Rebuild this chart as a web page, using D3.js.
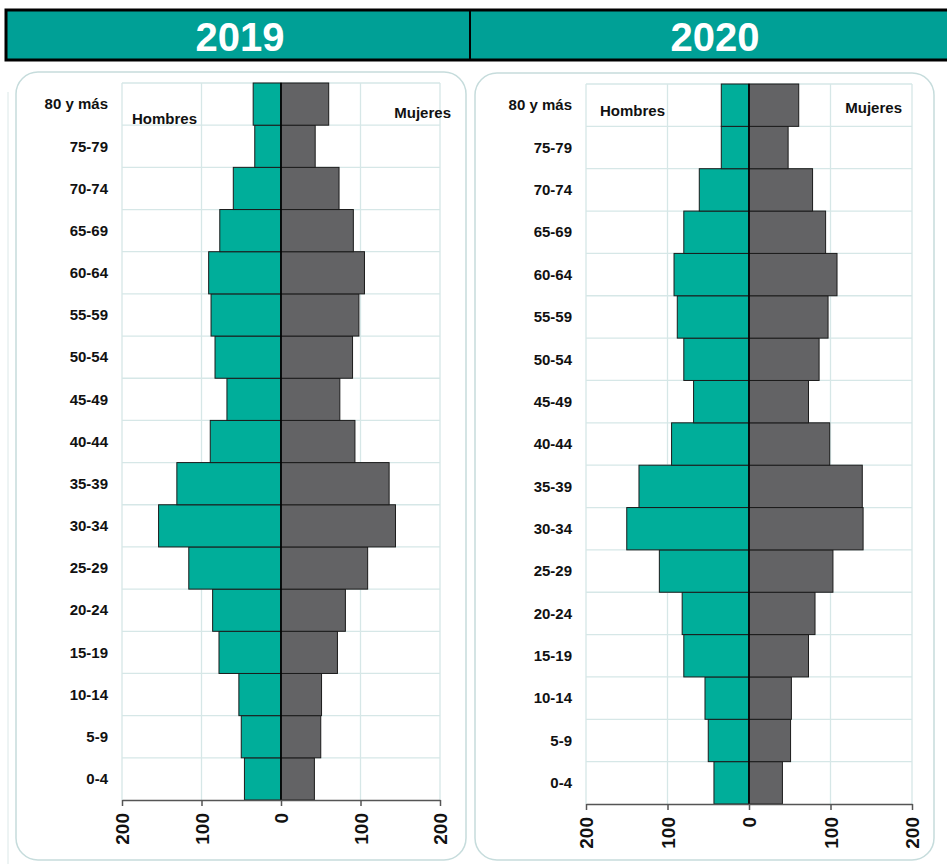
<!DOCTYPE html>
<html>
<head>
<meta charset="utf-8">
<script src="https://cdn.jsdelivr.net/npm/d3@7"></script>
<style>
  body { margin: 0; background: #fff; }
  svg { display: block; font-family: "Liberation Sans", Arial, sans-serif; }
</style>
</head>
<body>
<svg id="chart" width="947" height="864"></svg>
<script>
// age groups, youngest first
const ageGroups = ["0-4", "5-9", "10-14", "15-19", "20-24", "25-29", "30-34", "35-39",
  "40-44", "45-49", "50-54", "55-59", "60-64", "65-69", "70-74", "75-79", "80 y más"];

const men2019   = [46, 50, 53, 78, 86, 116, 154, 131, 89, 68, 83, 88, 91, 77, 60, 33, 35];
const women2019 = [42, 50, 51, 71, 81, 109, 144, 136, 93, 74, 90, 98, 105, 91, 73, 43, 60];
const men2020   = [43, 50, 54, 80, 82, 110, 150, 135, 95, 68, 80, 88, 92, 80, 61, 34, 34];
const women2020 = [41, 51, 52, 73, 81, 103, 140, 139, 99, 73, 86, 97, 108, 94, 78, 48, 61];

const years = ["2019", "2020"];
const tickValues = [-200, -100, 0, 100, 200];

const teal = "#00ae9a";
const grey = "#636365";
const gridColor = "#d6e7e7";

const svg = d3.select("#chart");

// === Header band ===
svg.append("rect")
  .attr("x", 6).attr("y", 10)
  .attr("width", 960).attr("height", 50)
  .attr("fill", "#00a096")
  .attr("stroke", "#000")
  .attr("stroke-width", 3);

svg.append("line")
  .attr("x1", 470).attr("x2", 470)
  .attr("y1", 10).attr("y2", 60)
  .attr("stroke", "#000")
  .attr("stroke-width", 2);

svg.selectAll("text.year")
  .data(years)
  .join("text")
  .attr("class", "year")
  .attr("x", (d, i) => i === 0 ? 240 : 715)
  .attr("y", 51)
  .attr("text-anchor", "middle")
  .attr("font-size", "40px")
  .attr("font-weight", "bold")
  .attr("fill", "#fff")
  .text(d => d);

// === Panel frames ===
svg.append("line")
  .attr("x1", 8).attr("x2", 8).attr("y1", 92).attr("y2", 864)
  .attr("stroke", "#dbe8e8").attr("stroke-width", 1);

const frames = [
  { x: 16, y: 72, w: 450, h: 788 },
  { x: 475, y: 73, w: 459, h: 787 }
];
svg.selectAll("rect.frame")
  .data(frames)
  .join("rect")
  .attr("class", "frame")
  .attr("x", d => d.x).attr("y", d => d.y)
  .attr("width", d => d.w).attr("height", d => d.h)
  .attr("rx", 22).attr("ry", 22)
  .attr("fill", "#fff")
  .attr("stroke", "#c6dcdc")
  .attr("stroke-width", 1.5);

// === Pyramid ===
function drawPyramid(opt) {
  const { left, right, top, bottom, men, women, hombresPos, mujeresPos } = opt;

  const x = d3.scaleLinear().domain([-200, 200]).range([left, right]);
  const y = d3.scaleBand().domain(ageGroups.slice().reverse()).range([top, bottom]);

  const g = svg.append("g");

  // grid
  g.append("g")
    .selectAll("line")
    .data(tickValues)
    .join("line")
    .attr("x1", d => x(d)).attr("x2", d => x(d))
    .attr("y1", top).attr("y2", bottom)
    .attr("stroke", gridColor).attr("stroke-width", 1.3);

  g.append("g")
    .selectAll("line")
    .data(ageGroups)
    .join("line")
    .attr("x1", left).attr("x2", right)
    .attr("y1", d => y(d)).attr("y2", d => y(d))
    .attr("stroke", gridColor).attr("stroke-width", 1.3);

  // men (left)
  g.append("g")
    .selectAll("rect")
    .data(ageGroups)
    .join("rect")
    .attr("x", (d, i) => x(-men[i]))
    .attr("y", d => y(d))
    .attr("width", (d, i) => x(0) - x(-men[i]))
    .attr("height", y.bandwidth())
    .attr("fill", teal)
    .attr("stroke", "#1b1b1b")
    .attr("stroke-width", 1);

  // women (right)
  g.append("g")
    .selectAll("rect")
    .data(ageGroups)
    .join("rect")
    .attr("x", x(0))
    .attr("y", d => y(d))
    .attr("width", (d, i) => x(women[i]) - x(0))
    .attr("height", y.bandwidth())
    .attr("fill", grey)
    .attr("stroke", "#1b1b1b")
    .attr("stroke-width", 1);

  // zero line
  g.append("line")
    .attr("x1", x(0)).attr("x2", x(0))
    .attr("y1", top).attr("y2", bottom)
    .attr("stroke", "#000").attr("stroke-width", 1.6);

  // age labels
  g.append("g")
    .selectAll("text")
    .data(ageGroups)
    .join("text")
    .attr("x", left - 14)
    .attr("y", d => y(d) + y.bandwidth() / 2)
    .attr("dy", "0.35em")
    .attr("text-anchor", "end")
    .attr("font-size", "15px")
    .attr("font-weight", "bold")
    .attr("fill", "#111")
    .text(d => d);

  // x axis
  const axis = g.append("g")
    .attr("transform", `translate(0, ${bottom})`)
    .call(d3.axisBottom(x).tickValues(tickValues).tickFormat(d => Math.abs(d)).tickSize(6).tickSizeOuter(0));

  axis.select(".domain").attr("stroke", "#555").attr("stroke-width", 1.5);
  axis.selectAll(".tick line").attr("stroke", "#555").attr("stroke-width", 1.5);
  axis.selectAll(".tick text")
    .attr("font-size", "19px")
    .attr("font-weight", "bold")
    .attr("font-family", "'Liberation Sans', Arial, sans-serif")
    .attr("fill", "#111")
    .attr("text-anchor", "end")
    .attr("transform", "rotate(-90)")
    .attr("x", -13)
    .attr("y", 0)
    .attr("dy", "0.35em");

  // sex labels
  g.append("text")
    .attr("x", hombresPos[0]).attr("y", hombresPos[1])
    .attr("font-size", "15px").attr("font-weight", "bold").attr("fill", "#111")
    .text("Hombres");

  g.append("text")
    .attr("x", mujeresPos[0]).attr("y", mujeresPos[1])
    .attr("text-anchor", "end")
    .attr("font-size", "15px").attr("font-weight", "bold").attr("fill", "#111")
    .text("Mujeres");
}

drawPyramid({
  left: 122, right: 440, top: 83, bottom: 800,
  men: men2019, women: women2019,
  hombresPos: [132, 124], mujeresPos: [451, 118]
});

drawPyramid({
  left: 586, right: 912, top: 84, bottom: 804,
  men: men2020, women: women2020,
  hombresPos: [600, 116], mujeresPos: [902, 113]
});
</script>
</body>
</html>
